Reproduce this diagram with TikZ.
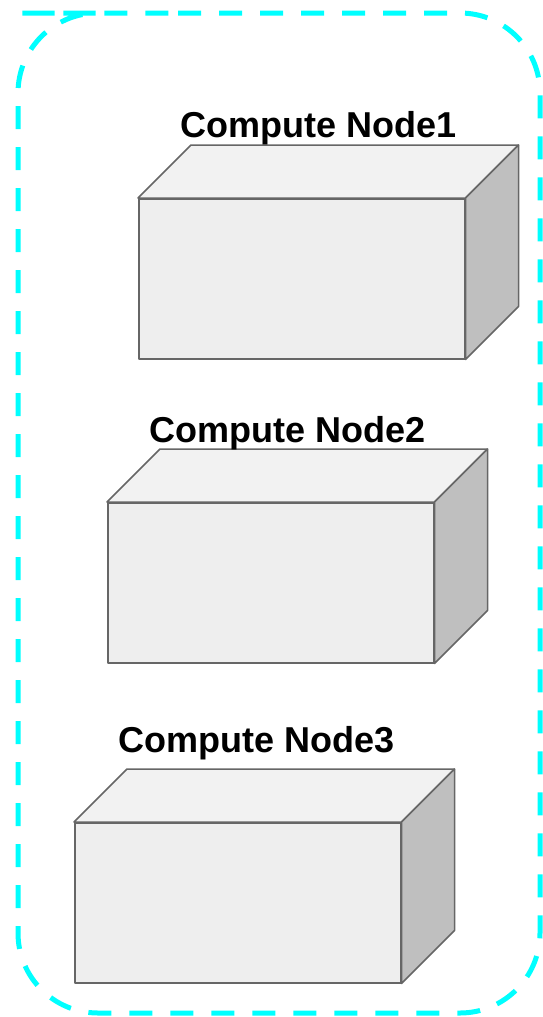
\documentclass[tikz,border=0pt]{standalone}
\usepackage{fontspec}
\setmainfont{Liberation Sans}
\definecolor{frontgray}{HTML}{EEEEEE}
\definecolor{topgray}{HTML}{F2F2F2}
\definecolor{sidegray}{HTML}{BFBFBF}
\definecolor{edgegray}{HTML}{666666}
\definecolor{groupcyan}{HTML}{00FFFF}
\tikzset{
  front/.style={draw=edgegray, line width=1.5pt, fill=frontgray, line join=round,
    minimum width=326pt, minimum height=160pt, inner sep=0pt, anchor=north west},
  face/.style={draw=edgegray, line width=1.5pt, line join=round},
  title/.style={font=\bfseries\fontsize{36}{40}\selectfont, anchor=base, inner sep=0pt},
  group/.style={draw=groupcyan, line width=5pt, dash pattern=on 23pt off 18pt,
    rounded corners=80pt}
}
% server box: front face node plus top and side faces offset by (53,-53)
\newcommand{\serverbox}[3]{%
  \node[front] (#1) at (#2,#3) {};
  \draw[face, fill=topgray] (#1.north west) -- ++(53,-53) -- ([shift={(53,-53)}]#1.north east) -- (#1.north east) -- cycle;
  \draw[face, fill=sidegray] (#1.north east) -- ++(53,-53) -- ([shift={(53,-53)}]#1.south east) -- (#1.south east) -- cycle;
}
\begin{document}
\begin{tikzpicture}[x=1pt, y=-1pt]
  \useasboundingbox (0,0) rectangle (543,1017);
  \fill[white] (0,0) rectangle (543,1017);

  % cluster outline
  \draw[group] (98,13) -- (540,13) -- (540,1013) -- (18,1013) -- (18,13) -- cycle;

  % compute nodes
  \serverbox{n1}{138}{198}
  \serverbox{n2}{107}{502}
  \serverbox{n3}{74}{822}

  \node[title] (t1) at (318.5,137) {Compute Node1};
  \node[title] (t2) at (288,442) {Compute Node2};
  \node[title] (t3) at (256.5,752) {Compute Node3};
\end{tikzpicture}
\end{document}
